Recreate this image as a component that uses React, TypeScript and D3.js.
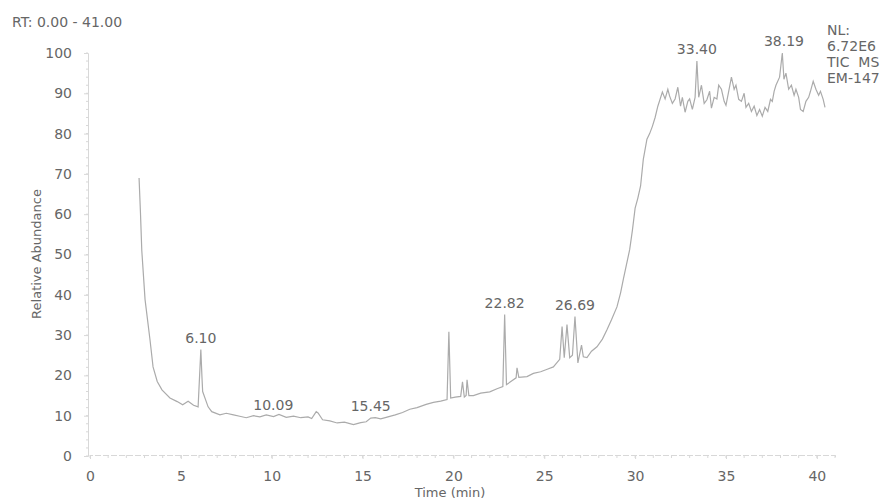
import React, { useRef, useEffect } from "react";
import * as d3 from "d3";

const WIDTH = 895;
const HEIGHT = 500;

// retention time (min) and relative abundance (%)
const retentionTimes = [
  2.7, 2.78, 2.85, 3.03, 3.3, 3.47, 3.7, 3.96, 4.4, 4.8, 5.1, 5.4, 5.7, 5.95, 6.1, 6.16, 6.2, 6.5,
  6.7, 7.15, 7.5, 7.9, 8.3, 8.6, 9.0, 9.35, 9.7, 10.1, 10.4, 10.8, 11.2, 11.6, 12.0, 12.2, 12.45,
  12.55, 12.8, 13.2, 13.6, 14.0, 14.5, 14.9, 15.2, 15.45, 15.7, 16.0, 16.3, 16.8, 17.2, 17.6,
  18.0, 18.5, 18.9, 19.3, 19.65, 19.75, 19.85, 20.1, 20.4, 20.5, 20.6, 20.7, 20.75, 20.85, 21.1,
  21.5, 22.0, 22.4, 22.72, 22.82, 22.92, 23.2, 23.45, 23.5, 23.6, 24.05, 24.4, 24.8, 25.2, 25.5,
  25.85, 25.98, 26.1, 26.25, 26.4, 26.55, 26.69, 26.85, 27.05, 27.15, 27.35, 27.6, 27.9, 28.2,
  28.45, 28.7, 29.0, 29.2, 29.35, 29.5, 29.7, 29.85, 30.0, 30.15, 30.3, 30.45, 30.65, 30.8, 30.95,
  31.1, 31.25, 31.5, 31.65, 31.8, 31.9, 32.05, 32.2, 32.35, 32.5, 32.6, 32.75, 32.9, 33.0, 33.15,
  33.3, 33.4, 33.5, 33.65, 33.8, 33.95, 34.1, 34.2, 34.35, 34.5, 34.6, 34.75, 34.9, 35.0, 35.15,
  35.3, 35.45, 35.55, 35.7, 35.85, 36.0, 36.1, 36.25, 36.4, 36.55, 36.7, 36.85, 37.0, 37.15, 37.3,
  37.45, 37.55, 37.65, 37.75, 37.95, 38.1, 38.19, 38.3, 38.45, 38.6, 38.75, 38.85, 39.0, 39.1,
  39.25, 39.4, 39.55, 39.65, 39.8, 39.95, 40.1, 40.2, 40.35, 40.45, 40.6,
];
const abundances = [
  69, 60, 51, 38.8, 28.9, 22.1, 18.5, 16.4, 14.4, 13.5, 12.7, 13.6, 12.6, 12.2, 26.4, 19.7, 16,
  12.2, 11, 10.2, 10.6, 10.2, 9.8, 9.5, 10, 9.7, 10.2, 9.8, 10.3, 9.6, 9.9, 9.5, 9.7, 9.3, 11,
  10.7, 9, 8.7, 8.2, 8.4, 7.8, 8.3, 8.5, 9.4, 9.5, 9.2, 9.6, 10.2, 10.8, 11.6, 12, 12.8, 13.3,
  13.6, 14, 30.8, 14.4, 14.6, 14.8, 18.4, 14.6, 15, 18.9, 15, 15, 15.6, 15.9, 16.7, 17.2, 35.1,
  17.7, 18.6, 19.4, 21.9, 19.5, 19.7, 20.5, 20.9, 21.6, 22.1, 24, 32.1, 24.4, 32.6, 24.4, 25,
  34.6, 23.1, 27.5, 24.6, 24.4, 26, 27.1, 29, 31.3, 33.8, 37, 40.5, 43.8, 47, 51.2, 56, 61.5, 64,
  67, 73.6, 78.6, 80, 81.8, 84, 86.8, 90.3, 88.6, 91, 89.3, 87.5, 88.6, 91.5, 86.8, 89, 85.3, 88,
  88.6, 86, 89, 98, 89, 92, 87.5, 88.4, 90.5, 86.3, 89, 88.6, 92, 91, 88, 87, 90.5, 94, 91, 92,
  88.5, 88, 90, 86.5, 87.5, 85.5, 86.8, 84.5, 86, 84.3, 86.5, 85.5, 88.5, 88, 90.5, 92, 94, 100,
  93.5, 95, 91, 92, 89.5, 91, 89, 86, 85.5, 88, 89, 90.5, 93, 91, 89.5, 90.5, 88.5, 86.5,
];

const peakTimes = [6.1, 10.09, 15.45, 22.82, 26.69, 33.4, 38.19];

const xTicks = [0, 5, 10, 15, 20, 25, 30, 35, 40];
const yTicks = [0, 10, 20, 30, 40, 50, 60, 70, 80, 90, 100];
const rangeLabel = "RT: 0.00 - 41.00";
const headerLines = ["NL:", "6.72E6", "TIC  MS", "EM-147"];
const xTitle = "Time (min)";
const yTitle = "Relative Abundance";

const FONT = "DejaVu Sans, Arial, sans-serif";
const TEXT = "#666";
const AXIS = "#d8d8d8";

function Chromatogram() {
  const svgRef = useRef<SVGSVGElement>(null);

  useEffect(() => {
    const svg = d3.select(svgRef.current);
    svg.selectAll("*").remove();

    const x = d3.scaleLinear().domain([0, 41]).range([90, 835]);
    const y = d3.scaleLinear().domain([0, 100]).range([456, 53]);

    const points = retentionTimes.map((t, i) => ({ t, v: abundances[i] }));

    // y axis
    const yAxis = d3.axisLeft(y).tickValues(yTicks).tickSize(4).tickPadding(12);
    const gy = svg.append("g").attr("transform", "translate(88,0)").call(yAxis);
    gy.select(".domain").attr("stroke", AXIS);
    gy.selectAll(".tick line").attr("stroke", AXIS);
    gy.selectAll(".tick text")
      .attr("fill", TEXT)
      .style("font-family", FONT)
      .style("font-size", "14px");
    gy.selectAll(".minor")
      .data(d3.range(0, 101, 2))
      .join("line")
      .attr("x1", -2)
      .attr("x2", 0)
      .attr("y1", (d) => y(d))
      .attr("y2", (d) => y(d))
      .attr("stroke", AXIS);

    // x axis
    const xAxis = d3.axisBottom(x).tickValues(xTicks).tickSize(4).tickPadding(12);
    const gx = svg.append("g").attr("transform", "translate(0,455)").call(xAxis);
    gx.select(".domain").attr("stroke", AXIS).attr("stroke-dasharray", "6,2");
    gx.selectAll(".tick line").attr("stroke", AXIS);
    gx.selectAll(".tick text")
      .attr("fill", TEXT)
      .style("font-family", FONT)
      .style("font-size", "14px");
    gx.selectAll(".minor")
      .data(d3.range(0, 42, 1))
      .join("line")
      .attr("x1", (d) => x(d))
      .attr("x2", (d) => x(d))
      .attr("y1", 0)
      .attr("y2", 3)
      .attr("stroke", AXIS);

    // trace
    const trace = d3
      .line<{ t: number; v: number }>()
      .x((d) => x(d.t))
      .y((d) => y(d.v));
    svg
      .append("path")
      .datum(points)
      .attr("d", trace)
      .attr("fill", "none")
      .attr("stroke", "#ababab")
      .attr("stroke-width", 1.2);

    // peak labels
    svg
      .selectAll(".peak")
      .data(peakTimes)
      .join("text")
      .attr("class", "peak")
      .attr("x", (t) => x(t))
      .attr("y", (t) => {
        const near = points.filter((p) => Math.abs(p.t - t) < 0.12);
        return y(d3.max(near, (p) => p.v) ?? 0) - 7;
      })
      .attr("text-anchor", "middle")
      .attr("fill", TEXT)
      .style("font-family", FONT)
      .style("font-size", "14px")
      .text((t) => d3.format(".2f")(t));

    // header texts
    svg
      .append("text")
      .attr("x", 12)
      .attr("y", 27)
      .attr("fill", TEXT)
      .style("font-family", FONT)
      .style("font-size", "14px")
      .text(rangeLabel);

    svg
      .selectAll(".hdr")
      .data(headerLines)
      .join("text")
      .attr("class", "hdr")
      .attr("x", 827)
      .attr("y", (_, i) => 35 + i * 16)
      .attr("fill", TEXT)
      .style("font-family", FONT)
      .style("font-size", "14px")
      .style("white-space", "pre")
      .text((d) => d);

    svg
      .append("text")
      .attr("x", 450)
      .attr("y", 497)
      .attr("text-anchor", "middle")
      .attr("fill", TEXT)
      .style("font-family", FONT)
      .style("font-size", "13px")
      .text(xTitle);

    svg
      .append("text")
      .attr("transform", "translate(41,254) rotate(-90)")
      .attr("text-anchor", "middle")
      .attr("fill", TEXT)
      .style("font-family", FONT)
      .style("font-size", "13px")
      .text(yTitle);
  }, []);

  return (
    <svg
      ref={svgRef}
      width={WIDTH}
      height={HEIGHT}
      style={{ position: "absolute", left: 0, top: 0, background: "#fff" }}
    />
  );
}

export default function App() {
  return <Chromatogram />;
}
